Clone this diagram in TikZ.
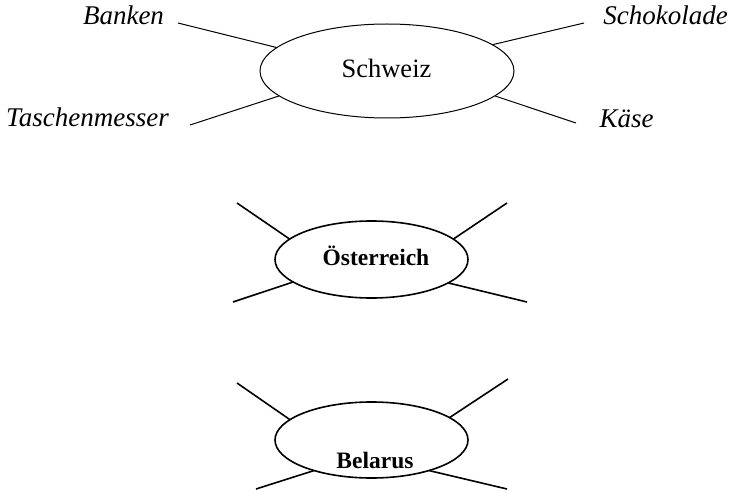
\documentclass[tikz,border=0pt]{standalone}
\usepackage{fontspec}
\setmainfont{Liberation Serif}
\usetikzlibrary{shapes.geometric}
\tikzset{
  country/.style={ellipse, draw, inner sep=0pt, outer sep=0pt},
  thinline/.style={line width=1pt},
  thickline/.style={line width=1.6pt},
  lab/.style={inner sep=0pt, outer sep=0pt, anchor=base, font=\fontsize{27}{31}\selectfont\itshape},
  ctext/.style={inner sep=0pt, outer sep=0pt, anchor=base},
}
\begin{document}
\begin{tikzpicture}[x=1pt,y=-1pt]
\useasboundingbox (0,0) rectangle (731,492);
% Schweiz
\node[country, thinline, minimum width=254pt, minimum height=94pt] (sch) at (387,71) {};
\node[ctext, font=\fontsize{26.5}{30}\selectfont] (scht) at (386.5,78) {Schweiz};
\node[lab] (banken) at (123.5,25) {Banken};
\node[lab] (schoko) at (665.5,25) {Schokolade};
\node[lab] (tasch) at (87.5,127) {Taschenmesser};
\node[lab] (kaese) at (626.5,128) {Käse};
\coordinate (s1) at (178,23);
\coordinate (s2) at (584,23);
\coordinate (s3) at (190,125);
\coordinate (s4) at (576,123);
\draw[thinline] (s1) -- (sch.168.6);
\draw[thinline] (s2) -- (sch.14.7);
\draw[thinline] (s3) -- (sch.193.7);
\draw[thinline] (s4) -- (sch.-13.4);
% Oesterreich
\node[country, thickline, minimum width=193pt, minimum height=77pt] (oe) at (371.5,259.5) {};
\node[ctext, font=\fontsize{23.5}{27}\selectfont\bfseries] (oet) at (376,265) {Österreich};
\coordinate (o1) at (237,203);
\coordinate (o2) at (233,302);
\coordinate (o3) at (507,203);
\coordinate (o4) at (527,302);
\draw[thickline] (o1) -- (oe.166);
\draw[thickline] (o2) -- (oe.196.5);
\draw[thickline] (o3) -- (oe.14.6);
\draw[thickline] (o4) -- (oe.-17.1);
% Belarus
\node[country, thickline, minimum width=193pt, minimum height=76pt] (by) at (371.5,440) {};
\node[ctext, font=\fontsize{23.5}{27}\selectfont\bfseries] (byt) at (375,468) {Belarus};
\coordinate (b1) at (237,383);
\coordinate (b2) at (256,489);
\coordinate (b3) at (508,379);
\coordinate (b4) at (507,489);
\draw[thickline] (b1) -- (by.166.2);
\draw[thickline] (b2) -- (by.208.3);
\draw[thickline] (b3) -- (by.16.3);
\draw[thickline] (b4) -- (by.-28.7);
\end{tikzpicture}
\end{document}
